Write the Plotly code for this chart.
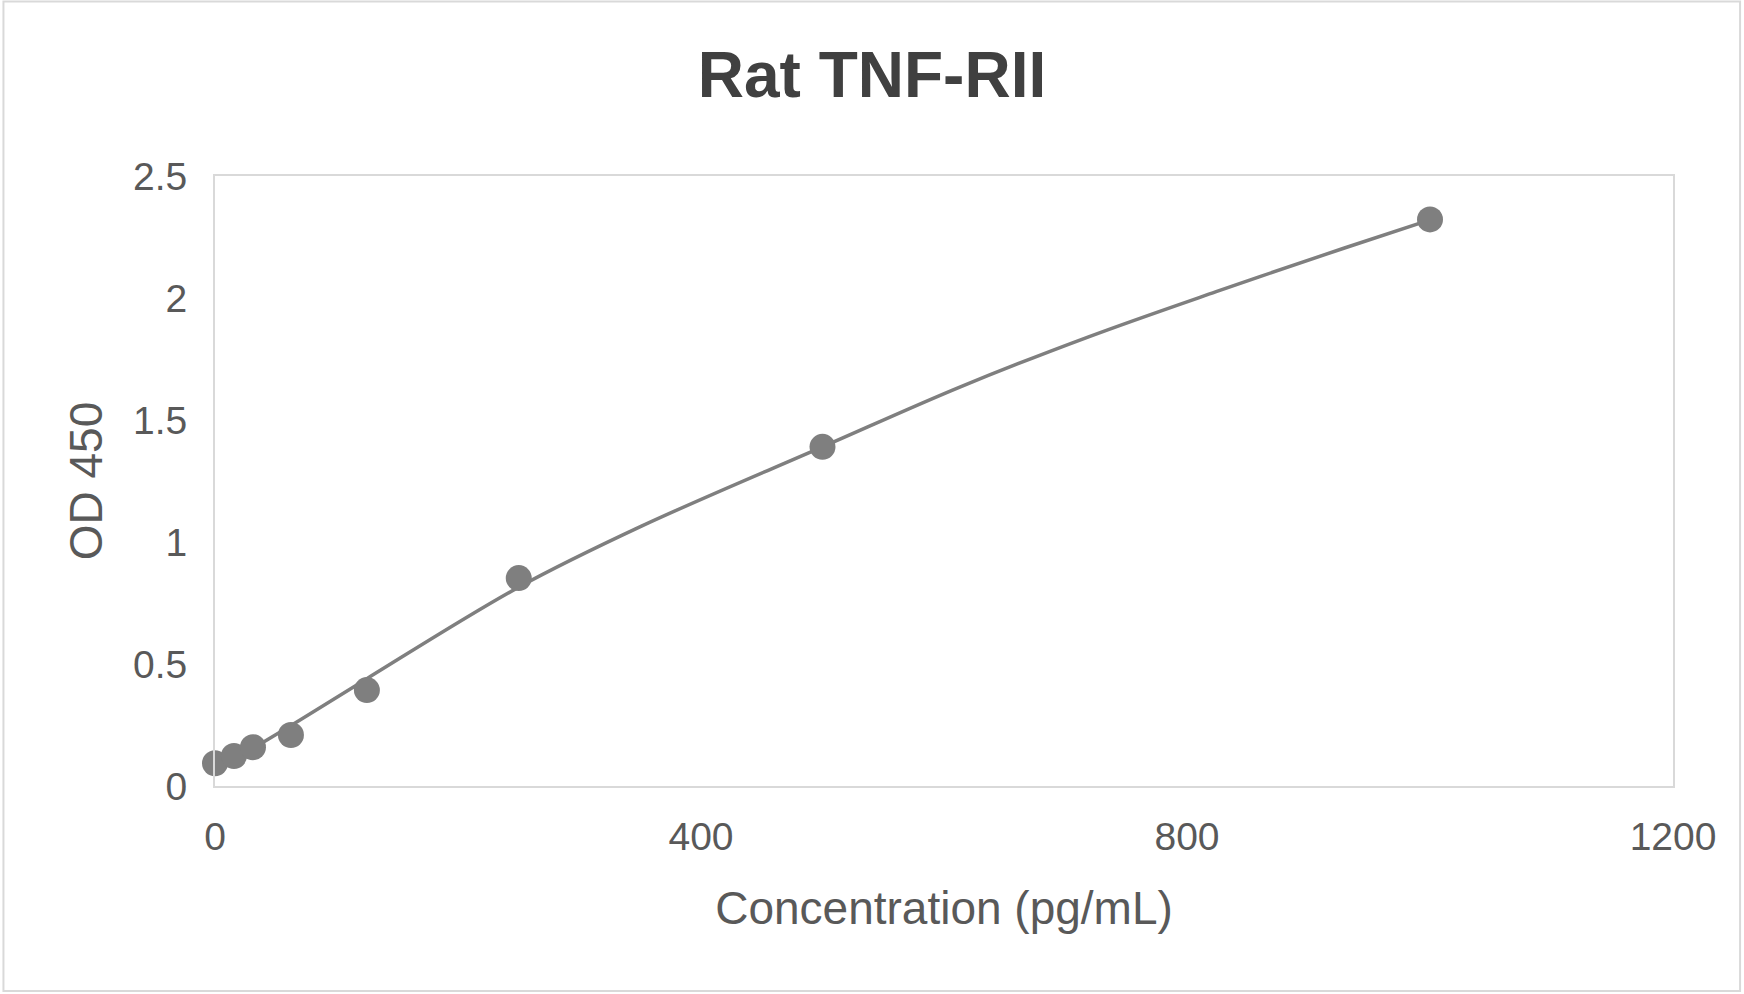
import plotly.graph_objs as go

# стандарты ИФА: концентрация и оптическая плотность
conc = [0, 15.6, 31.25, 62.5, 125, 250, 500, 1000]
od450 = [0.093, 0.123, 0.159, 0.209, 0.393, 0.852, 1.39, 2.322]

# линия аппроксимации
fit_conc = [0, 40, 70, 125, 250, 351, 500, 614, 719, 824, 929, 1000]
fit_od = [0.06, 0.18, 0.27, 0.44, 0.815, 1.065, 1.39, 1.637, 1.841, 2.026, 2.204, 2.32]

x_ticks = [0, 400, 800, 1200]
y_ticks = [0, 0.5, 1, 1.5, 2, 2.5]

gray = '#7f7f7f'
txt = '#595959'
frame = '#d9d9d9'
fnt = 'Arial, Liberation Sans, sans-serif'

fig = go.Figure()
fig.add_trace(go.Scatter(x=fit_conc, y=fit_od, mode='lines',
                         line=dict(color=gray, width=3.5, shape='spline'),
                         hoverinfo='skip', cliponaxis=False))
fig.add_trace(go.Scatter(x=conc, y=od450, mode='markers',
                         marker=dict(color=gray, size=26), cliponaxis=False))

fig.update_layout(
    width=1744, height=994,
    margin=dict(l=215, r=71, t=176, b=208),
    paper_bgcolor='white', plot_bgcolor='white',
    showlegend=False,
    font=dict(family=fnt, color=txt),
    title=dict(text='<b>Rat TNF-RII</b>', x=0.5, xanchor='center',
               y=0.9246, yanchor='middle',
               font=dict(family=fnt, size=64, color='#404040')),
)
fig.update_xaxes(range=[0, 1200], tickvals=x_ticks, showgrid=False, zeroline=False,
                 showline=True, mirror=True, linecolor=frame, linewidth=2,
                 ticks='', ticklabelstandoff=15, automargin=False,
                 tickfont=dict(size=39, color=txt),
                 title=dict(text='Concentration (pg/mL)', standoff=35,
                            font=dict(size=46, color=txt)))
fig.update_yaxes(range=[0, 2.5], tickvals=y_ticks, showgrid=False, zeroline=False,
                 showline=True, mirror=True, linecolor=frame, linewidth=2,
                 ticks='', ticklabelstandoff=18, automargin=False,
                 tickfont=dict(size=39, color=txt),
                 title=dict(text='OD 450', standoff=16,
                            font=dict(size=46, color=txt)))

# рамка вокруг всей диаграммы
fig.add_shape(type='rect', xref='paper', yref='paper',
              x0=-0.1451, x1=1.0460, y0=-0.3361, y1=1.2860,
              line=dict(color=frame, width=2), layer='below')

# без отступа body, чтобы диаграмма стояла ровно в углу окна
fig.write_html('out.html', config=dict(displayModeBar=False),
               post_script="document.body.style.margin='0';")
